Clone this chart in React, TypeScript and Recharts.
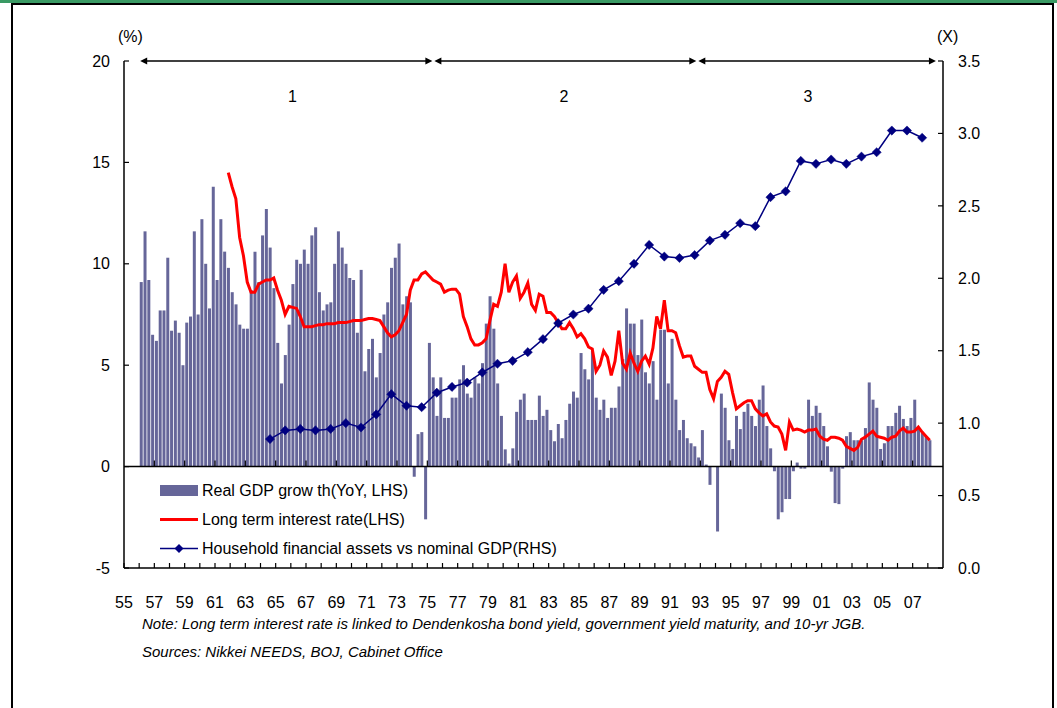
import React from 'react';
import {
  ComposedChart,
  Bar,
  Line,
  XAxis,
  YAxis,
  ReferenceLine,
  ReferenceDot,
  Legend,
} from 'recharts';

const FONT = '"Liberation Sans", Arial, Helvetica, sans-serif';

// ---- time frame: quarterly categories 1955Q1 .. 2008Q4 ----
const BASE_YEAR = 1955;
const QUARTER_COUNT = 216;

// ---- Real GDP growth (YoY, %), quarterly from 1956Q1 ----
const gdpStartQuarter = 4;
const gdpGrowth: number[] = [
  9.1, 11.6, 9.2, 6.5, 6.2, 7.7, 7.7, 10.3, 6.7, 7.2,
  6.6, 5.0, 7.1, 7.4, 11.6, 7.5, 12.2, 10.0, 7.8, 13.8,
  9.2, 12.2, 10.6, 9.8, 8.6, 8.0, 7.0, 6.8, 6.8, 8.7,
  10.6, 9.1, 11.4, 12.7, 10.8, 8.8, 6.1, 4.1, 5.5, 7.0,
  9.0, 10.2, 10.0, 10.7, 10.0, 11.4, 11.8, 8.6, 7.7, 8.0,
  8.1, 10.0, 11.6, 10.8, 10.0, 9.3, 9.2, 6.6, 9.7, 4.7,
  5.8, 6.3, 4.4, 5.6, 7.5, 8.1, 9.8, 10.3, 11.0, 8.0,
  8.4, 8.1, -0.5, 1.6, 1.7, -2.6, 6.1, 4.4, 2.5, 4.4,
  2.4, 2.4, 3.4, 3.4, 4.3, 5.0, 3.6, 3.4, 4.4, 4.1,
  5.1, 7.05, 8.4, 6.8, 4.1, 2.5, 0.85, 0.15, 0.9, 2.7,
  3.3, 3.6, 2.3, 2.3, 2.3, 3.5, 2.5, 2.8, 1.8, 1.25,
  2.1, 1.4, 2.3, 3.1, 3.7, 3.4, 5.6, 4.8, 4.3, 5.7,
  3.4, 2.8, 3.3, 2.4, 2.9, 2.9, 3.95, 5.3, 7.8, 7.05,
  7.05, 5.5, 7.25, 4.65, 4.1, 5.2, 3.3, 6.75, 6.75, 4.1,
  6.3, 3.3, 1.8, 2.3, 1.4, 1.15, 1.0, 0.45, 1.8, 0.1,
  -0.9, 0.0, -3.2, 3.6, 2.9, 1.3, 0.87, 2.5, 1.85, 2.7,
  3.1, 2.5, 2.0, 3.3, 4.0, 2.0, 0.9, -0.23, -2.6, -2.25,
  -1.6, -1.6, -0.23, 0.2, -0.1, -0.1, 3.3, 2.5, 3.0, 2.65,
  2.0, 1.0, -0.25, -1.8, -1.85, -0.1, 1.5, 1.7, 1.3, 1.3,
  1.3, 1.9, 4.15, 3.3, 2.9, 0.87, 1.15, 2.0, 2.0, 2.65,
  3.0, 2.35, 2.0, 2.4, 3.3, 1.9, 1.7, 1.5, 1.3,
];

// ---- Long term interest rate (%), quarterly from 1961Q4 ----
const rateStartQuarter = 27;
const longTermRate: number[] = [
  14.5, 13.8, 13.2, 11.3, 10.4, 9.1, 8.6, 8.6, 9.0, 9.1,
  9.2, 9.2, 9.3, 8.7, 8.2, 7.5, 7.9, 7.85, 7.8, 7.4,
  6.9, 6.9, 6.9, 6.95, 7.0, 7.0, 7.05, 7.05, 7.05, 7.1,
  7.1, 7.1, 7.15, 7.2, 7.2, 7.2, 7.25, 7.3, 7.3, 7.25,
  7.2, 6.9, 6.6, 6.4, 6.5, 6.7, 7.1, 7.5, 8.7, 9.2,
  9.2, 9.5, 9.6, 9.4, 9.2, 9.1, 9.0, 8.6, 8.7, 8.75,
  8.75, 8.5, 7.4, 6.9, 6.3, 6.0, 6.0, 6.1, 6.3, 7.2,
  8.0, 7.9, 8.6, 10.0, 8.6, 9.1, 9.4, 8.3, 8.6, 9.05,
  8.0, 7.7, 8.5, 8.4, 7.6, 7.6, 7.4, 7.1, 6.8, 6.8,
  7.1, 6.8, 6.4, 6.55, 6.3, 5.9, 5.8, 4.7, 5.0, 5.7,
  5.4, 4.5, 5.2, 6.7, 5.1, 4.8, 5.6, 5.1, 4.7, 5.2,
  5.45, 5.05, 5.85, 7.4, 6.8, 8.2, 6.7, 6.7, 6.6, 5.95,
  5.4, 5.45, 5.45, 4.95, 4.8, 4.65, 4.65, 3.8, 3.35, 4.2,
  4.4, 4.7, 4.55, 3.65, 2.85, 3.0, 3.15, 3.25, 3.25, 2.85,
  2.65, 2.5, 2.6, 2.2, 2.0, 1.95, 1.6, 0.8, 2.2, 1.8,
  1.85, 1.8, 1.7, 1.8, 1.8, 1.85, 1.5, 1.35, 1.3, 1.45,
  1.45, 1.4, 1.3, 1.0, 0.9, 0.8, 0.95, 1.35, 1.45, 1.6,
  1.75, 1.5, 1.45, 1.4, 1.3, 1.45, 1.5, 1.75, 1.9, 1.7,
  1.7, 1.75, 1.95, 1.7, 1.5, 1.3,
];

// ---- Household financial assets vs nominal GDP (x), annual from 1964 ----
const assetStartYear = 1964;
const householdAssets: number[] = [
  0.89, 0.95, 0.96, 0.95, 0.96, 1.0, 0.97, 1.06, 1.2, 1.12,
  1.11, 1.21, 1.25, 1.28, 1.35, 1.41, 1.43, 1.49, 1.58, 1.69,
  1.75, 1.79, 1.92, 1.98, 2.1, 2.23, 2.15, 2.14, 2.16, 2.26,
  2.3, 2.38, 2.36, 2.56, 2.6, 2.81, 2.79, 2.82, 2.79, 2.84,
  2.87, 3.02, 3.02, 2.97,
];

// ---- axes ----
const leftTicks = [-5, 0, 5, 10, 15, 20];
const rightTicks = [0, 0.5, 1, 1.5, 2, 2.5, 3, 3.5];
const QUARTERS_PER_YEAR = 4;
const LABEL_STEP = 8; // a label every 2 years
const yearTicks = Array.from({ length: 54 }, (_, i) => i * QUARTERS_PER_YEAR).filter((t) => t < 213);
const zeroLineTicks = yearTicks.filter((t) => t > 0 && t % LABEL_STEP === 0);

// ---- period annotations ----
const periodBounds = [1956, 1975.4, 1992.8, 2008.6];
const periodLabels = ['1', '2', '3'];
const periodLabelYears = [1966.1, 1984.0, 2000.1];
const periodLabelLevel = 18.25;

const yearToT = (y: number) => (y - BASE_YEAR) * QUARTERS_PER_YEAR;

const rows = Array.from({ length: QUARTER_COUNT }, (_, i) => {
  const gdp = gdpGrowth[i - gdpStartQuarter];
  const rate = longTermRate[i - rateStartQuarter];
  const hh =
    i % QUARTERS_PER_YEAR === 2
      ? householdAssets[(i - 2) / QUARTERS_PER_YEAR + BASE_YEAR - assetStartYear]
      : undefined;
  return { q: i, t: i + 0.5, gdp, rate, hh };
});

const YearTick = (props: any) => {
  const { x, y, payload } = props;
  const v = payload?.value ?? 0;
  if (v % LABEL_STEP !== 0) return <g />;
  const yr = (BASE_YEAR + v / QUARTERS_PER_YEAR) % 100;
  const label = String(yr).padStart(2, '0');
  return (
    <text x={x} y={y} dy="0.71em" textAnchor="middle" fontSize={16} fill="#000" fontFamily={FONT}>
      {label}
    </text>
  );
};

const Diamond = (props: any) => {
  const { cx, cy, value, index } = props;
  if (value == null || cx == null || cy == null || isNaN(cy)) return <g key={`d${index}`} />;
  const s = 4.6;
  return (
    <polygon
      key={`d${index}`}
      points={`${cx},${cy - s} ${cx + s},${cy} ${cx},${cy + s} ${cx - s},${cy}`}
      fill="#000080"
      stroke="#000080"
      strokeWidth={0.5}
    />
  );
};

const ArrowSpan = (props: any) => {
  const { x1, y1, x2, y2 } = props;
  const h = 7;
  const w = 3.4;
  const a = x1 + 1;
  const b = x2 - 1;
  return (
    <g>
      <line x1={a + h - 1} y1={y1} x2={b - h + 1} y2={y2} stroke="#000" strokeWidth={1.6} />
      <polygon points={`${a},${y1} ${a + h},${y1 - w} ${a + h},${y1 + w}`} fill="#000" />
      <polygon points={`${b},${y2} ${b - h},${y2 - w} ${b - h},${y2 + w}`} fill="#000" />
    </g>
  );
};

const legendOrder = ['gdp', 'rate', 'hh'];

const renderLegend = (props: any) => {
  const payload: any[] = props.payload || [];
  const items = legendOrder
    .map((k) => payload.find((p) => p.dataKey === k))
    .filter(Boolean);
  return (
    <div style={{ fontFamily: FONT, fontSize: 16, color: '#000' }}>
      {items.map((it: any) => (
        <div key={it.dataKey} style={{ display: 'flex', alignItems: 'center', height: 29, whiteSpace: 'nowrap' }}>
          <svg width={42} height={29} style={{ display: 'block' }}>
            {it.dataKey === 'gdp' && <rect x={0} y={9} width={38} height={11} fill="#666699" />}
            {it.dataKey === 'rate' && <line x1={0} y1={14.5} x2={38} y2={14.5} stroke="#ff0000" strokeWidth={3} />}
            {it.dataKey === 'hh' && (
              <g>
                <line x1={0} y1={14.5} x2={38} y2={14.5} stroke="#000080" strokeWidth={1.5} />
                <polygon points="19,10 23.5,14.5 19,19 14.5,14.5" fill="#000080" />
              </g>
            )}
          </svg>
          <span style={{ lineHeight: '29px' }}>{it.value}</span>
        </div>
      ))}
    </div>
  );
};

export default function App() {
  return (
    <div style={{ position: 'absolute', left: 0, top: 0, width: 1057, height: 708, background: '#fff', overflow: 'hidden' }}>
      <div style={{ position: 'absolute', left: 0, top: 0, width: 1057, height: 3, background: '#3a9a64' }} />
      <div
        style={{
          position: 'absolute',
          left: 11,
          top: 3,
          width: 1043,
          height: 720,
          boxSizing: 'border-box',
          borderLeft: '2.3px solid #000',
          borderRight: '2.3px solid #000',
          borderTop: '2.2px solid #000',
        }}
      />
      <div style={{ position: 'absolute', left: 0, top: 0 }}>
        <ComposedChart
          width={1057}
          height={708}
          data={rows}
          margin={{ top: 61, right: 54, bottom: 100, left: 64 }}
          barCategoryGap="15%"
        >
          <XAxis xAxisId="q" dataKey="q" type="category" hide />
          <XAxis
            xAxisId="n"
            dataKey="t"
            type="number"
            domain={[0, QUARTER_COUNT]}
            allowDataOverflow
            ticks={yearTicks}
            interval={0}
            height={40}
            tickSize={-5}
            tickMargin={34}
            tick={<YearTick />}
            axisLine={{ stroke: '#000', strokeWidth: 1.5 }}
            tickLine={{ stroke: '#000', strokeWidth: 1.2 }}
          />
          <YAxis
            yAxisId="l"
            domain={[-5, 20]}
            ticks={leftTicks}
            interval={0}
            width={60}
            tickSize={-5}
            tickMargin={19}
            axisLine={{ stroke: '#000', strokeWidth: 1.5 }}
            tickLine={{ stroke: '#000', strokeWidth: 1.2 }}
            tick={{ fontSize: 16, fill: '#000', fontFamily: FONT }}
          />
          <YAxis
            yAxisId="r"
            orientation="right"
            domain={[0, 3.5]}
            ticks={rightTicks}
            interval={0}
            width={60}
            tickSize={-5}
            tickMargin={20}
            tickFormatter={(v: number) => v.toFixed(1)}
            axisLine={{ stroke: '#000', strokeWidth: 1.5 }}
            tickLine={{ stroke: '#000', strokeWidth: 1.2 }}
            tick={{ fontSize: 16, fill: '#000', fontFamily: FONT }}
          />
          <Bar
            xAxisId="q"
            yAxisId="l"
            dataKey="gdp"
            name="Real GDP grow th(YoY, LHS)"
            fill="#666699"
            isAnimationActive={false}
          />
          <ReferenceLine xAxisId="q" yAxisId="l" y={0} stroke="#000" strokeWidth={1.5} />
          {zeroLineTicks.map((t) => (
            <ReferenceLine
              key={`zt${t}`}
              xAxisId="n"
              yAxisId="l"
              segment={[
                { x: t, y: 0 },
                { x: t, y: 0.3 },
              ]}
              stroke="#000"
              strokeWidth={1.2}
            />
          ))}
          <Line
            xAxisId="q"
            yAxisId="l"
            dataKey="rate"
            name="Long term interest rate(LHS)"
            type="linear"
            stroke="#ff0000"
            strokeWidth={3}
            dot={false}
            activeDot={false}
            isAnimationActive={false}
          />
          <Line
            xAxisId="q"
            yAxisId="r"
            dataKey="hh"
            name="Household financial assets vs nominal GDP(RHS)"
            type="linear"
            stroke="#000080"
            strokeWidth={1.5}
            connectNulls
            dot={(p: any) => <Diamond {...p} />}
            activeDot={false}
            isAnimationActive={false}
          />
          {periodLabels.map((lab, i) => (
            <ReferenceLine
              key={`pa${lab}`}
              xAxisId="n"
              yAxisId="l"
              segment={[
                { x: yearToT(periodBounds[i]), y: 20 },
                { x: yearToT(periodBounds[i + 1]), y: 20 },
              ]}
              shape={(p: any) => <ArrowSpan {...p} />}
            />
          ))}
          {periodLabels.map((lab, i) => (
            <ReferenceDot
              key={`pl${lab}`}
              xAxisId="n"
              yAxisId="l"
              x={yearToT(periodLabelYears[i])}
              y={periodLabelLevel}
              r={0}
              fill="none"
              stroke="none"
              label={{ value: lab, position: 'center', fontSize: 16, fill: '#000', fontFamily: FONT }}
            />
          ))}
          <Legend
            layout="horizontal"
            verticalAlign="middle"
            align="center"
            content={renderLegend}
            wrapperStyle={{ position: 'absolute', left: 160, top: 476, width: 420, height: 90 }}
          />
        </ComposedChart>
      </div>
      <div style={{ position: 'absolute', left: 118, top: 28, fontFamily: FONT, fontSize: 16, lineHeight: '18px' }}>(%)</div>
      <div style={{ position: 'absolute', left: 937, top: 28, fontFamily: FONT, fontSize: 16, lineHeight: '18px' }}>(X)</div>
      <div
        style={{
          position: 'absolute',
          left: 142,
          top: 615,
          fontFamily: FONT,
          fontSize: 15,
          fontStyle: 'italic',
          lineHeight: '18px',
          whiteSpace: 'nowrap',
        }}
      >
        Note: Long term interest rate is linked to Dendenkosha bond yield, government yield maturity, and 10-yr JGB.
      </div>
      <div
        style={{
          position: 'absolute',
          left: 142,
          top: 643,
          fontFamily: FONT,
          fontSize: 15,
          fontStyle: 'italic',
          lineHeight: '18px',
          whiteSpace: 'nowrap',
        }}
      >
        Sources: Nikkei NEEDS, BOJ, Cabinet Office
      </div>
    </div>
  );
}
